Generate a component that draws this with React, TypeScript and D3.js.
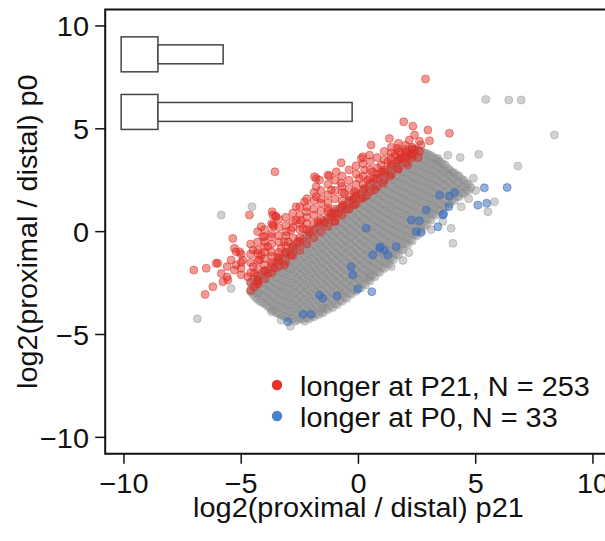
import React from "react";
import * as d3 from "d3";

// ---------- data ----------
const xTicks = [-10, -5, 0, 5, 10];
const yTicks = [-10, -5, 0, 5, 10];
const xTitle = "log2(proximal / distal) p21";
const yTitle = "log2(proximal / distal) p0";
const legendLabels = ["longer at P21, N = 253", "longer at P0, N = 33"];

// two inset box shapes (row centre, bar end) in data units
const boxRows = [8.62, 5.82];
const boxBarEnds = [-5.77, -0.27];

// dense gray cloud, listed per x column
const grayCols: [number, number[]][] = [
  [-4.6, [-2.9, -2.5]],
  [-4.4, [-3.2, -2.8, -2.4]],
  [-4.2, [-3.4, -3.0, -2.6, -2.2]],
  [-4.0, [-3.5, -3.15, -2.8, -2.45, -2.1]],
  [-3.8, [-3.7, -3.35, -3.0, -2.65, -2.3, -1.95]],
  [-3.6, [-3.85, -3.5, -3.15, -2.8, -2.45, -2.1, -1.75]],
  [-3.4, [-4.0, -3.65, -3.3, -2.95, -2.6, -2.25, -1.9, -1.55]],
  [-3.2, [-4.1, -3.75, -3.4, -3.05, -2.7, -2.35, -2.0, -1.65, -1.3]],
  [-3.0, [-4.2, -3.85, -3.5, -3.15, -2.8, -2.45, -2.1, -1.75, -1.4, -1.1]],
  [-2.8, [-4.25, -3.9, -3.55, -3.2, -2.85, -2.5, -2.15, -1.8, -1.45, -1.1, -0.85]],
  [-2.6, [-4.3, -3.95, -3.6, -3.25, -2.9, -2.55, -2.2, -1.85, -1.5, -1.15, -0.8]],
  [-2.4, [-4.25, -3.9, -3.55, -3.2, -2.85, -2.5, -2.15, -1.8, -1.45, -1.1, -0.75, -0.45]],
  [-2.2, [-4.2, -3.85, -3.5, -3.15, -2.8, -2.45, -2.1, -1.75, -1.4, -1.05, -0.7, -0.35]],
  [-2.0, [-4.1, -3.75, -3.4, -3.05, -2.7, -2.35, -2.0, -1.65, -1.3, -0.95, -0.6, -0.25, 0.05]],
  [-1.8, [-4.0, -3.65, -3.3, -2.95, -2.6, -2.25, -1.9, -1.55, -1.2, -0.85, -0.5, -0.15, 0.2]],
  [-1.6, [-3.9, -3.55, -3.2, -2.85, -2.5, -2.15, -1.8, -1.45, -1.1, -0.75, -0.4, -0.05, 0.3]],
  [-1.4, [-3.75, -3.4, -3.05, -2.7, -2.35, -2.0, -1.65, -1.3, -0.95, -0.6, -0.25, 0.1, 0.45]],
  [-1.2, [-3.6, -3.25, -2.9, -2.55, -2.2, -1.85, -1.5, -1.15, -0.8, -0.45, -0.1, 0.25, 0.6]],
  [-1.0, [-3.5, -3.15, -2.8, -2.45, -2.1, -1.75, -1.4, -1.05, -0.7, -0.35, 0.0, 0.35, 0.7, 1.0]],
  [-0.8, [-3.35, -3.0, -2.65, -2.3, -1.95, -1.6, -1.25, -0.9, -0.55, -0.2, 0.15, 0.5, 0.85, 1.15]],
  [-0.6, [-3.2, -2.85, -2.5, -2.15, -1.8, -1.45, -1.1, -0.75, -0.4, -0.05, 0.3, 0.65, 1.0, 1.3]],
  [-0.4, [-3.0, -2.65, -2.3, -1.95, -1.6, -1.25, -0.9, -0.55, -0.2, 0.15, 0.5, 0.85, 1.2, 1.5]],
  [-0.2, [-2.85, -2.5, -2.15, -1.8, -1.45, -1.1, -0.75, -0.4, -0.05, 0.3, 0.65, 1.0, 1.35, 1.65]],
  [0.0, [-2.7, -2.35, -2.0, -1.65, -1.3, -0.95, -0.6, -0.25, 0.1, 0.45, 0.8, 1.15, 1.5, 1.85]],
  [0.2, [-2.55, -2.2, -1.85, -1.5, -1.15, -0.8, -0.45, -0.1, 0.25, 0.6, 0.95, 1.3, 1.65, 2.0]],
  [0.4, [-2.35, -2.0, -1.65, -1.3, -0.95, -0.6, -0.25, 0.1, 0.45, 0.8, 1.15, 1.5, 1.85, 2.2]],
  [0.6, [-2.15, -1.8, -1.45, -1.1, -0.75, -0.4, -0.05, 0.3, 0.65, 1.0, 1.35, 1.7, 2.05, 2.4]],
  [0.8, [-1.95, -1.6, -1.25, -0.9, -0.55, -0.2, 0.15, 0.5, 0.85, 1.2, 1.55, 1.9, 2.25, 2.6]],
  [1.0, [-1.75, -1.4, -1.05, -0.7, -0.35, 0.0, 0.35, 0.7, 1.05, 1.4, 1.75, 2.1, 2.45, 2.8]],
  [1.2, [-1.55, -1.2, -0.85, -0.5, -0.15, 0.2, 0.55, 0.9, 1.25, 1.6, 1.95, 2.3, 2.65, 3.0]],
  [1.4, [-1.3, -0.95, -0.6, -0.25, 0.1, 0.45, 0.8, 1.15, 1.5, 1.85, 2.2, 2.55, 2.9, 3.2]],
  [1.6, [-1.1, -0.75, -0.4, -0.05, 0.3, 0.65, 1.0, 1.35, 1.7, 2.05, 2.4, 2.75, 3.1, 3.4]],
  [1.8, [-0.85, -0.5, -0.15, 0.2, 0.55, 0.9, 1.25, 1.6, 1.95, 2.3, 2.65, 3.0, 3.35, 3.6]],
  [2.0, [-0.6, -0.25, 0.1, 0.45, 0.8, 1.15, 1.5, 1.85, 2.2, 2.55, 2.9, 3.25, 3.6]],
  [2.2, [-0.4, -0.05, 0.3, 0.65, 1.0, 1.35, 1.7, 2.05, 2.4, 2.75, 3.1, 3.45, 3.8]],
  [2.4, [-0.15, 0.2, 0.55, 0.9, 1.25, 1.6, 1.95, 2.3, 2.65, 3.0, 3.35, 3.7, 4.0]],
  [2.6, [0.1, 0.45, 0.8, 1.15, 1.5, 1.85, 2.2, 2.55, 2.9, 3.25, 3.6, 3.95]],
  [2.8, [0.35, 0.7, 1.05, 1.4, 1.75, 2.1, 2.45, 2.8, 3.15, 3.5, 3.85]],
  [3.0, [0.6, 0.95, 1.3, 1.65, 2.0, 2.35, 2.7, 3.05, 3.4, 3.75]],
  [3.2, [0.85, 1.2, 1.55, 1.9, 2.25, 2.6, 2.95, 3.3, 3.6]],
  [3.4, [1.05, 1.4, 1.75, 2.1, 2.45, 2.8, 3.15, 3.45]],
  [3.6, [1.25, 1.6, 1.95, 2.3, 2.65, 3.0, 3.3]],
  [3.8, [1.4, 1.75, 2.1, 2.45, 2.8, 3.1]],
  [4.0, [1.55, 1.9, 2.25, 2.6, 2.9]],
  [4.2, [1.7, 2.05, 2.4, 2.75]],
  [4.4, [1.85, 2.2, 2.55]],
  [4.6, [2.0, 2.35]],
  [4.8, [2.15]],
];

// second, interleaved set of gray columns
const grayCols2: [number, number[]][] = [
  [-4.5, [-3.05, -2.65, -2.3]],
  [-4.3, [-3.3, -2.95, -2.55, -2.2]],
  [-4.1, [-3.45, -3.1, -2.75, -2.35, -2.0]],
  [-3.9, [-3.6, -3.25, -2.9, -2.55, -2.2, -1.85]],
  [-3.7, [-3.8, -3.45, -3.1, -2.75, -2.4, -2.05, -1.7]],
  [-3.5, [-3.95, -3.6, -3.25, -2.9, -2.55, -2.2, -1.85, -1.5]],
  [-3.3, [-4.05, -3.7, -3.35, -3.0, -2.65, -2.3, -1.95, -1.6, -1.3]],
  [-3.1, [-4.15, -3.8, -3.45, -3.1, -2.75, -2.4, -2.05, -1.7, -1.35, -1.05]],
  [-2.9, [-4.25, -3.9, -3.55, -3.2, -2.85, -2.5, -2.15, -1.8, -1.45, -1.1, -0.8]],
  [-2.7, [-4.35, -4.0, -3.65, -3.3, -2.95, -2.6, -2.25, -1.9, -1.55, -1.2, -0.85, -0.6]],
  [-2.5, [-4.2, -3.85, -3.5, -3.15, -2.8, -2.45, -2.1, -1.75, -1.4, -1.05, -0.7, -0.4]],
  [-2.3, [-4.35, -4.0, -3.65, -3.3, -2.95, -2.6, -2.25, -1.9, -1.55, -1.2, -0.85, -0.5, -0.2]],
  [-2.1, [-4.25, -3.9, -3.55, -3.2, -2.85, -2.5, -2.15, -1.8, -1.45, -1.1, -0.75, -0.4, -0.1]],
  [-1.9, [-4.15, -3.8, -3.45, -3.1, -2.75, -2.4, -2.05, -1.7, -1.35, -1.0, -0.65, -0.3, 0.05]],
  [-1.7, [-4.05, -3.7, -3.35, -3.0, -2.65, -2.3, -1.95, -1.6, -1.25, -0.9, -0.55, -0.2, 0.15, 0.4]],
  [-1.5, [-3.95, -3.6, -3.25, -2.9, -2.55, -2.2, -1.85, -1.5, -1.15, -0.8, -0.45, -0.1, 0.25, 0.55]],
  [-1.3, [-3.8, -3.45, -3.1, -2.75, -2.4, -2.05, -1.7, -1.35, -1.0, -0.65, -0.3, 0.05, 0.4, 0.7]],
  [-1.1, [-3.7, -3.35, -3.0, -2.65, -2.3, -1.95, -1.6, -1.25, -0.9, -0.55, -0.2, 0.15, 0.5, 0.85]],
  [-0.9, [-3.55, -3.2, -2.85, -2.5, -2.15, -1.8, -1.45, -1.1, -0.75, -0.4, -0.05, 0.3, 0.65, 1.0]],
  [-0.7, [-3.4, -3.05, -2.7, -2.35, -2.0, -1.65, -1.3, -0.95, -0.6, -0.25, 0.1, 0.45, 0.8, 1.15]],
  [-0.5, [-3.25, -2.9, -2.55, -2.2, -1.85, -1.5, -1.15, -0.8, -0.45, -0.1, 0.25, 0.6, 0.95, 1.3]],
  [-0.3, [-3.05, -2.7, -2.35, -2.0, -1.65, -1.3, -0.95, -0.6, -0.25, 0.1, 0.45, 0.8, 1.15, 1.5]],
  [-0.1, [-2.9, -2.55, -2.2, -1.85, -1.5, -1.15, -0.8, -0.45, -0.1, 0.25, 0.6, 0.95, 1.3, 1.6]],
  [0.1, [-2.75, -2.4, -2.05, -1.7, -1.35, -1.0, -0.65, -0.3, 0.05, 0.4, 0.75, 1.1, 1.45, 1.8]],
  [0.3, [-2.6, -2.25, -1.9, -1.55, -1.2, -0.85, -0.5, -0.15, 0.2, 0.55, 0.9, 1.25, 1.6, 1.95]],
  [0.5, [-2.4, -2.05, -1.7, -1.35, -1.0, -0.65, -0.3, 0.05, 0.4, 0.75, 1.1, 1.45, 1.8, 2.15]],
  [0.7, [-2.2, -1.85, -1.5, -1.15, -0.8, -0.45, -0.1, 0.25, 0.6, 0.95, 1.3, 1.65, 2.0, 2.35]],
  [0.9, [-2.0, -1.65, -1.3, -0.95, -0.6, -0.25, 0.1, 0.45, 0.8, 1.15, 1.5, 1.85, 2.2, 2.55]],
  [1.1, [-1.8, -1.45, -1.1, -0.75, -0.4, -0.05, 0.3, 0.65, 1.0, 1.35, 1.7, 2.05, 2.4, 2.75]],
  [1.3, [-1.6, -1.25, -0.9, -0.55, -0.2, 0.15, 0.5, 0.85, 1.2, 1.55, 1.9, 2.25, 2.6, 2.95]],
  [1.5, [-1.35, -1.0, -0.65, -0.3, 0.05, 0.4, 0.75, 1.1, 1.45, 1.8, 2.15, 2.5, 2.85, 3.15]],
  [1.7, [-1.15, -0.8, -0.45, -0.1, 0.25, 0.6, 0.95, 1.3, 1.65, 2.0, 2.35, 2.7, 3.05, 3.35]],
  [1.9, [-0.9, -0.55, -0.2, 0.15, 0.5, 0.85, 1.2, 1.55, 1.9, 2.25, 2.6, 2.95, 3.3, 3.6]],
  [2.1, [-0.65, -0.3, 0.05, 0.4, 0.75, 1.1, 1.45, 1.8, 2.15, 2.5, 2.85, 3.2, 3.55, 3.85]],
  [2.3, [-0.45, -0.1, 0.25, 0.6, 0.95, 1.3, 1.65, 2.0, 2.35, 2.7, 3.05, 3.4, 3.75, 4.05]],
  [2.5, [-0.2, 0.15, 0.5, 0.85, 1.2, 1.55, 1.9, 2.25, 2.6, 2.95, 3.3, 3.65, 4.0]],
  [2.7, [0.05, 0.4, 0.75, 1.1, 1.45, 1.8, 2.15, 2.5, 2.85, 3.2, 3.55, 3.9]],
  [2.9, [0.3, 0.65, 1.0, 1.35, 1.7, 2.05, 2.4, 2.75, 3.1, 3.45, 3.8]],
  [3.1, [0.55, 0.9, 1.25, 1.6, 1.95, 2.3, 2.65, 3.0, 3.35, 3.7]],
  [3.3, [0.8, 1.15, 1.5, 1.85, 2.2, 2.55, 2.9, 3.25, 3.55]],
  [3.5, [1.0, 1.35, 1.7, 2.05, 2.4, 2.75, 3.1, 3.4]],
  [3.7, [1.2, 1.55, 1.9, 2.25, 2.6, 2.95, 3.25]],
  [3.9, [1.35, 1.7, 2.05, 2.4, 2.75, 3.0]],
  [4.1, [1.5, 1.85, 2.2, 2.55, 2.85]],
  [4.3, [1.7, 2.05, 2.4, 2.7]],
  [4.5, [1.85, 2.2, 2.5]],
  [4.7, [2.0, 2.3]],
];

// sparse gray points around the cloud
const grayOut: [number, number][] = [
  [-6.87, -4.23], [5.43, 6.43], [6.41, 6.4], [6.94, 6.4], [8.36, 4.7], [5.13, 3.76],
  [6.8, 3.19], [4.34, 3.61], [3.81, 3.72], [3.39, 3.56], [-5.85, 0.81], [-4.54, 1.21],
  [4.03, -0.57], [2.15, -1.02], [4.38, 1.21], [3.95, 0.16], [5.52, 0.97], [5.8, 1.45],
  [0.47, -2.19], [-1.52, -3.73], [-4.29, -3.0], [-5.43, -2.76], [-4.58, -2.92],
  [-3.7, -3.9], [-3.3, -4.3], [-2.9, -4.6], [1.4, -1.7], [1.9, -1.4], [3.1, 0.1],
  [4.7, 1.6], [5.0, 2.0], [4.9, 2.6], [3.6, 0.5],
];

// red: longer at P21
const redPts: [number, number][] = [
  [2.86, 7.42], [1.93, 5.34], [2.32, 5.13], [2.96, 4.94], [3.88, 4.78], [2.39, 4.7],
  [1.32, 4.53], [3.03, 4.42], [2.17, 4.45], [0.54, 4.21], [2.67, 4.21], [-3.56, 2.91],
  [-1.88, 2.67], [-1.3, 2.75], [-0.95, 2.91], [-0.74, 3.35], [0.19, 3.64], [0.47, 3.72],
  [0.12, 3.56], [1.39, 3.81], [1.75, 3.89], [2.03, 3.89], [-1.24, 2.7], [-1.8, 2.59],
  [-1.66, 2.51], [0.26, 3.0], [0.61, 2.91], [0.97, 3.24], [1.25, 3.4], [-0.74, 2.35],
  [0.04, 2.59], [0.4, 2.51], [0.68, 2.59], [0.97, 2.91], [-1.8, 2.18], [-1.8, 1.7],
  [-1.16, 2.02], [-0.6, 1.86], [-0.17, 1.94], [0.26, 2.1], [-1.59, 1.38], [-1.3, 1.13],
  [-1.16, 0.89], [-0.67, 1.29], [-0.24, 1.54], [-2.3, 1.45], [-2.66, 1.21], [-4.65, 0.81],
  [-3.68, 0.97], [-3.54, 0.76], [-2.23, 0.97], [-2.66, 0.56], [-3.62, 0.27], [-5.36, -0.33],
  [-4.08, -0.25], [-3.72, -0.25], [-3.08, 0.0], [-2.37, 0.16], [-5.29, -0.81], [-5.07, -0.98],
  [-4.5, -0.89], [-4.01, -0.73], [-6.0, -1.54], [-6.49, -1.78], [-5.22, -1.62], [-7.02, -1.87],
  [-6.07, -1.54], [-6.54, -3.05], [-6.21, -2.68], [-5.78, -2.44], [-5.85, -2.03], [-5.57, -2.35],
  [-5.29, -1.87], [-5.0, -1.78], [-4.72, -2.19], [-4.5, -1.71], [-4.29, -2.44], [-4.93, -1.38],
  [-5.43, -1.38], [-5.22, -0.98], [-4.29, -1.06], [-3.86, -0.73], [-3.0, -0.49], [-4.15, 0.24],
  [-3.65, 0.81], [-3.51, 0.72], [-2.44, 0.56], [-1.73, 0.48], [-1.16, 0.72], [-3.65, 0.32],
  [-4.01, -0.25], [-2.87, 0.08], [-2.09, 0.0], [-3.16, -0.49], [-2.58, -0.49], [-3.72, -0.98],
  [-4.15, -1.14], [-3.44, -1.22], [-2.87, -1.14], [-4.01, -1.62], [-4.43, -2.03], [-4.29, -2.35],
  [-4.43, -2.68], [-3.86, -2.03], [-3.58, -1.78], [-3.16, -1.62], [-4.22, -1.38], [-3.3, -0.81],
  [1.55, 3.7], [1.8, 3.55], [2.0, 4.0], [2.2, 3.7], [1.65, 4.05], [2.4, 3.95], [2.55, 3.6],
  [-0.5, 1.1], [-0.2, 1.3], [0.1, 1.6], [0.35, 1.75], [-0.85, 0.9], [-1.45, 0.45],
  [-1.0, 0.5], [0.7, 2.05], [1.05, 2.35], [1.35, 2.7], [1.7, 3.05], [2.1, 3.25],
];

// red band, per x column
const redCols: [number, number[]][] = [
  [-5.6, [-2.2, -1.7]],
  [-5.0, [-2.1, -1.5, -1.1]],
  [-4.6, [-2.0, -1.5, -1.1, -0.6]],
  [-4.3, [-1.8, -1.4, -0.9, -0.5, 0.0]],
  [-4.0, [-1.9, -1.3, -1.0, -0.5, 0.1]],
  [-3.7, [-1.5, -1.2, -0.6, -0.1, 0.4]],
  [-3.4, [-1.4, -1.0, -0.5, -0.2, 0.2, 0.6]],
  [-3.1, [-1.0, -0.7, -0.2, 0.3, 0.7]],
  [-2.8, [-0.7, -0.3, 0.2, 0.5, 0.9]],
  [-2.5, [-0.3, 0.1, 0.4, 0.8, 1.2]],
  [-2.2, [0.1, 0.4, 0.7, 1.2, 1.6]],
  [-1.9, [0.4, 0.8, 1.1, 1.5, 1.9]],
  [-1.6, [0.6, 1.0, 1.6, 2.0]],
  [-1.3, [1.0, 1.4, 1.8, 2.3]],
  [-1.0, [1.1, 1.6, 2.0, 2.5]],
  [-0.7, [1.5, 1.9, 2.2, 2.7]],
  [-0.4, [1.7, 2.1, 2.5, 3.0]],
  [-0.1, [1.9, 2.3, 2.8, 3.2]],
  [0.2, [2.3, 2.7, 3.3]],
  [0.5, [2.6, 3.0, 3.4]],
  [0.8, [2.8, 3.1, 3.6]],
  [1.1, [3.0, 3.5, 3.9]],
  [1.4, [3.3, 3.6, 4.1]],
  [1.7, [3.5, 3.9, 4.3]],
  [2.0, [3.6, 4.2]],
  [2.3, [3.8, 4.1]],
  [2.6, [3.9, 4.4]],
];

// dense red strip along the upper edge of the gray core
const redEdge: [number, number[]][] = [
  [-4.6, [-2.85, -2.45]],
  [-4.3, [-2.55, -2.15]],
  [-4.0, [-2.3, -1.9]],
  [-3.7, [-2.0, -1.6]],
  [-3.4, [-1.7, -1.3]],
  [-3.1, [-1.45, -1.05]],
  [-2.8, [-1.15, -0.75]],
  [-2.5, [-0.9, -0.5]],
  [-2.2, [-0.6, -0.2]],
  [-1.9, [-0.3, 0.1]],
  [-1.6, [0.0, 0.4]],
  [-1.3, [0.25, 0.65]],
  [-1.0, [0.5, 0.9]],
  [-0.7, [0.8, 1.2]],
  [-0.4, [1.1, 1.5]],
  [-0.1, [1.35, 1.75]],
  [0.2, [1.65, 2.05]],
  [0.5, [1.95, 2.35]],
  [0.8, [2.2, 2.6]],
  [1.1, [2.5, 2.9]],
  [1.4, [2.8, 3.2]],
  [1.7, [3.05, 3.45]],
  [2.0, [3.35, 3.75]],
  [2.3, [3.6, 4.0]],
];

// blue: longer at P0
const bluePts: [number, number][] = [
  [5.37, 2.13], [6.34, 2.15], [5.09, 1.29], [5.47, 1.38], [3.85, 1.21], [3.63, 0.86],
  [3.46, 1.78], [3.88, 1.73], [2.89, 1.05], [2.25, 0.56], [2.6, 0.53], [3.39, 0.24],
  [2.46, 0.0], [2.67, -0.04], [0.93, -0.73], [1.25, -1.14], [1.61, -0.73], [1.1, -0.9],
  [0.33, 0.16], [0.9, -0.81], [-0.31, -1.71], [-0.24, -2.11], [-0.03, -2.79], [0.57, -2.92],
  [-0.91, -3.12], [-1.66, -3.08], [-1.52, -3.24], [-2.37, -4.02], [-2.02, -4.01], [-3.01, -4.38],
  [3.6, 0.81], [0.61, -1.14], [4.1, 1.9],
];

// ---------- styles ----------
const FONT = "'Liberation Sans', Arial, Helvetica, sans-serif";
const FS = 27;
const SX = 1.07;
const GRAY = "rgb(140,140,140)";
const RED = "rgb(224,44,36)";
const BLUE = "rgb(60,110,185)";

export default function App() {
  const x = d3.scaleLinear().domain([-10.8, 10.8]).range([105.2, 611.7]);
  const y = d3.scaleLinear().domain([-10.8, 10.8]).range([453.8, 9.5]);
  const [x0, x1] = x.range();
  const [yb, yt] = y.range();

  const cols = (c: [number, number[]][]) =>
    c.flatMap(([cx, ys]) => ys.map((v) => [cx, v] as [number, number]));
  const grayPts = [...cols(grayCols), ...cols(grayCols2)];
  const redBand = [...cols(redCols), ...cols(redEdge)];

  const dot = (p: [number, number], i: number, col: string, op: number, sw = 1) => (
    <circle key={i} cx={x(p[0])} cy={y(p[1])} r={4} fill={col} fillOpacity={op} stroke={col} strokeOpacity={op} strokeWidth={sw} />
  );

  const txt = (s: string, tx: number, ty: number, anchor: string, key?: any, rot = 0) => (
    <text key={key} transform={`translate(${tx},${ty}) rotate(${rot}) scale(${SX},1)`} textAnchor={anchor} fontFamily={FONT} fontSize={FS} fill="#111">
      {s}
    </text>
  );

  return (
    <svg width={605} height={541} style={{ position: "absolute", left: 0, top: 0, background: "#fff" }}>
      <rect x={0} y={0} width={605} height={541} fill="#fff" />
      {boxRows.map((r, i) => (
        <g key={i} fill="#fff" stroke="#444" strokeWidth={1.5}>
          <rect x={x(-10.12)} y={y(r + 0.85)} width={x(-8.55) - x(-10.12)} height={y(r - 0.85) - y(r + 0.85)} />
          <rect x={x(-8.55)} y={y(r + 0.46)} width={x(boxBarEnds[i]) - x(-8.55)} height={y(r - 0.46) - y(r + 0.46)} />
        </g>
      ))}
      <g>{grayPts.map((p, i) => dot(p, i, GRAY, 0.47, 0.5))}</g>
      <g>{grayOut.map((p, i) => dot(p, i, GRAY, 0.4))}</g>
      <g>{redBand.map((p, i) => dot(p, i, RED, 0.48))}</g>
      <g>{redPts.map((p, i) => dot(p, i, RED, 0.48))}</g>
      <g>{bluePts.map((p, i) => dot(p, i, BLUE, 0.55))}</g>
      <path d={`M${x1},${yt} H${x0} V${yb} H${x1}`} fill="none" stroke="#111" strokeWidth={2} />
      {yTicks.map((t) => (
        <g key={"y" + t}>
          <line x1={x0 - 10} x2={x0} y1={y(t)} y2={y(t)} stroke="#111" strokeWidth={1.5} />
          {txt(t < 0 ? "\u2212" + Math.abs(t) : String(t), 89, y(t) + 10.5, "end")}
        </g>
      ))}
      {xTicks.map((t) => (
        <g key={"x" + t}>
          <line x1={x(t)} x2={x(t)} y1={yb} y2={yb + 10} stroke="#111" strokeWidth={1.5} />
          {txt(t < 0 ? "\u2212" + Math.abs(t) : String(t), x(t), 493, "middle")}
        </g>
      ))}
      {txt(xTitle, (x0 + x1) / 2, 517, "middle")}
      {txt(yTitle, 37, (yt + yb) / 2, "middle", "yt", -90)}
      {legendLabels.map((l, i) => (
        <g key={"l" + i}>
          <circle cx={277} cy={385 + i * 31} r={5.2} fill={i === 0 ? "rgb(232,48,40)" : "rgb(72,130,200)"} />
          {txt(l, 300, 396 + i * 31, "start")}
        </g>
      ))}
    </svg>
  );
}
